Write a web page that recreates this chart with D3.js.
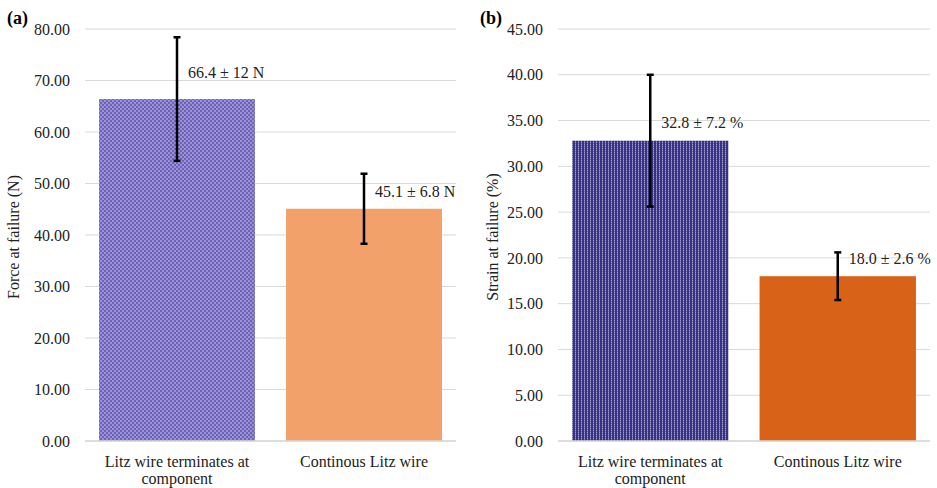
<!DOCTYPE html>
<html>
<head>
<meta charset="utf-8">
<script src="https://cdn.jsdelivr.net/npm/d3@7"></script>
<style>
  body { margin: 0; background: #fff; }
  svg text { font-family: "Liberation Serif", Tinos, "Times New Roman", "DejaVu Serif", serif; fill: #222; }
</style>
</head>
<body>
<div id="chart"></div>
<script>
const categories = ["Litz wire terminates at component", "Continous Litz wire"];

const forceMean = [66.4, 45.1];
const forceErr = [12, 6.8];
const forceLabels = ["66.4 \u00b1 12 N", "45.1 \u00b1 6.8 N"];
const forceTicks = [0, 10, 20, 30, 40, 50, 60, 70, 80];

const strainMean = [32.8, 18.0];
const strainErr = [7.2, 2.6];
const strainLabels = ["32.8 \u00b1 7.2 %", "18.0 \u00b1 2.6 %"];
const strainTicks = [0, 5, 10, 15, 20, 25, 30, 35, 40, 45];

const w = 937;
const h = 488;
const serif = "'Liberation Serif', Tinos, 'Times New Roman', 'DejaVu Serif', serif";
const fs = 16;

const svg = d3.select("#chart")
  .append("svg")
  .attr("width", w)
  .attr("height", h)
  .attr("font-family", serif);

// fill patterns
const defs = svg.append("defs");

const checker = defs.append("pattern")
  .attr("id", "checker")
  .attr("patternUnits", "userSpaceOnUse")
  .attr("width", 4)
  .attr("height", 4);
checker.append("rect").attr("width", 4).attr("height", 4).attr("fill", "#6d61b7");
checker.append("rect").attr("width", 2).attr("height", 2).attr("fill", "#9a92d4");
checker.append("rect").attr("x", 2).attr("y", 2).attr("width", 2).attr("height", 2).attr("fill", "#9a92d4");

const stripes = defs.append("pattern")
  .attr("id", "stripes")
  .attr("patternUnits", "userSpaceOnUse")
  .attr("width", 3)
  .attr("height", 2);
stripes.append("rect").attr("width", 3).attr("height", 2).attr("fill", "#38337f");
stripes.append("rect").attr("x", 2).attr("width", 1).attr("height", 1).attr("fill", "#a19dd2");
stripes.append("rect").attr("x", 2).attr("y", 1).attr("width", 1).attr("height", 1).attr("fill", "#6d69ab");

const panels = [
  {
    tag: "(a)", tagX: 7, title: "Force at failure (N)", titleX: 19,
    x0: 85, x1: 456, max: 80, ticks: forceTicks,
    mean: forceMean, err: forceErr, labels: forceLabels, lift: [21, 12],
    fills: ["url(#checker)", "#f2a16b"]
  },
  {
    tag: "(b)", tagX: 480, title: "Strain at failure (%)", titleX: 498,
    x0: 558, x1: 930, max: 45, ticks: strainTicks,
    mean: strainMean, err: strainErr, labels: strainLabels, lift: [13, 12],
    fills: ["url(#stripes)", "#d86217"]
  }
];

const plotTop = 29;
const plotBottom = 441;

panels.forEach(p => {
  const g = svg.append("g");

  const xScale = d3.scaleBand()
    .domain(categories)
    .range([p.x0, p.x1])
    .paddingInner(0.166)
    .paddingOuter(0.075);

  const yScale = d3.scaleLinear()
    .domain([0, p.max])
    .range([plotBottom, plotTop]);

  // gridlines
  g.selectAll(".grid")
    .data(p.ticks)
    .enter()
    .append("line")
    .attr("x1", p.x0)
    .attr("x2", p.x1)
    .attr("y1", d => yScale(d))
    .attr("y2", d => yScale(d))
    .attr("stroke", "#d9d9d9")
    .attr("stroke-width", 1);

  // y axis labels
  const yAxis = d3.axisLeft(yScale)
    .tickValues(p.ticks)
    .tickFormat(d3.format(".2f"))
    .tickSize(0)
    .tickPadding(15);
  const ya = g.append("g")
    .attr("transform", `translate(${p.x0}, 0)`)
    .call(yAxis)
    .attr("font-family", serif)
    .attr("font-size", fs);
  ya.select(".domain").remove();
  ya.selectAll("text").attr("fill", "#222");

  // bars
  g.selectAll(".bar")
    .data(p.mean)
    .enter()
    .append("rect")
    .attr("x", (d, i) => xScale(categories[i]))
    .attr("y", d => yScale(d))
    .attr("width", xScale.bandwidth())
    .attr("height", d => plotBottom - yScale(d))
    .attr("fill", (d, i) => p.fills[i]);

  // baseline
  g.append("line")
    .attr("x1", p.x0)
    .attr("x2", p.x1)
    .attr("y1", plotBottom)
    .attr("y2", plotBottom)
    .attr("stroke", "#d9d9d9")
    .attr("stroke-width", 1.5);

  // error bars
  p.mean.forEach((m, i) => {
    const cx = xScale(categories[i]) + xScale.bandwidth() / 2;
    const yHi = yScale(m + p.err[i]);
    const yLo = yScale(m - p.err[i]);
    const eb = g.append("g").attr("stroke", "#000").attr("stroke-width", 2.5);
    eb.append("line").attr("x1", cx).attr("x2", cx).attr("y1", yHi).attr("y2", yLo);
    eb.append("line").attr("x1", cx - 3.5).attr("x2", cx + 3.5).attr("y1", yHi).attr("y2", yHi);
    eb.append("line").attr("x1", cx - 3.5).attr("x2", cx + 3.5).attr("y1", yLo).attr("y2", yLo);

    g.append("text")
      .attr("x", cx + 11)
      .attr("y", yScale(m) - p.lift[i])
      .attr("font-size", fs)
      .text(p.labels[i]);
  });

  // category labels, wrapped
  categories.forEach(c => {
    const cx = xScale(c) + xScale.bandwidth() / 2;
    const t = g.append("text")
      .attr("text-anchor", "middle")
      .attr("font-size", fs)
      .attr("x", cx)
      .attr("y", 467);
    const words = c.split(" ");
    let line = [];
    let tspan = t.append("tspan").attr("x", cx).attr("dy", 0);
    words.forEach(word => {
      line.push(word);
      tspan.text(line.join(" "));
      if (tspan.node().getComputedTextLength() > 165 && line.length > 1) {
        line.pop();
        tspan.text(line.join(" "));
        line = [word];
        tspan = t.append("tspan").attr("x", cx).attr("dy", 17).text(word);
      }
    });
  });

  // y title
  g.append("text")
    .attr("transform", `translate(${p.titleX}, ${(plotTop + plotBottom) / 2 + 2}) rotate(-90)`)
    .attr("text-anchor", "middle")
    .attr("font-size", fs)
    .text(p.title);

  // panel tag
  g.append("text")
    .attr("x", p.tagX)
    .attr("y", 24)
    .attr("font-size", 18)
    .attr("font-weight", "bold")
    .style("fill", "#000")
    .text(p.tag);
});
</script>
</body>
</html>
